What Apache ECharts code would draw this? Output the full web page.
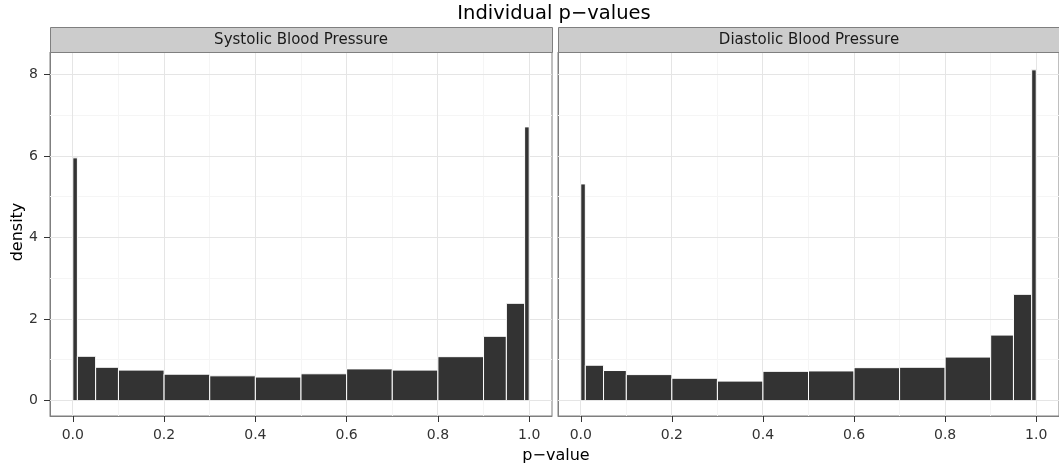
<!DOCTYPE html>
<html>
<head>
<meta charset="utf-8">
<script src="https://cdn.jsdelivr.net/npm/echarts@6/dist/echarts.min.js"></script>
<style>
html,body{margin:0;padding:0;background:#fff;}
#chart{width:1059px;height:469px;}
</style>
</head>
<body>
<div id="chart"></div>
<script>
// ---- data ----
const chartTitle = 'Individual p\u2212values';
const xTitle = 'p\u2212value';
const yTitle = 'density';
const panels = ['Systolic Blood Pressure', 'Diastolic Blood Pressure'];
const binEdges = [0, 0.01, 0.05, 0.1, 0.2, 0.3, 0.4, 0.5, 0.6, 0.7, 0.8, 0.9, 0.95, 0.99, 1.0];
const systolic = [5.96, 1.09, 0.82, 0.75, 0.65, 0.61, 0.58, 0.66, 0.78, 0.75, 1.08, 1.58, 2.39, 6.72];
const diastolic = [5.32, 0.87, 0.74, 0.64, 0.55, 0.48, 0.72, 0.73, 0.81, 0.82, 1.07, 1.61, 2.61, 8.12];
const xTicks = [0, 0.2, 0.4, 0.6, 0.8, 1.0];
const xMinor = [0.1, 0.3, 0.5, 0.7, 0.9];
const yTicks = [0, 2, 4, 6, 8];
const yMinor = [1, 3, 5, 7];
const xRange = [-0.05, 1.05];
const yRange = [-0.376, 8.558];

// ---- layout / style ----
const FONT = 'DejaVu Sans';
const grids = [
  {left: 50, top: 52, width: 502, height: 364},
  {left: 558, top: 52, width: 502, height: 364}
];
const seriesValues = [systolic, diastolic];

function binData(vals) {
  return vals.map((v, i) => [binEdges[i], binEdges[i + 1], v]);
}

function crisp(v) { return Math.round(v - 0.5) + 0.5; }

function vLineRender(color) {
  return function (params, api) {
    const cs = params.coordSys;
    const x = crisp(api.coord([api.value(0), 0])[0]);
    return {type: 'line', shape: {x1: x, y1: cs.y, x2: x, y2: cs.y + cs.height},
      style: {stroke: color, lineWidth: 1}};
  };
}
function hLineRender(color) {
  return function (params, api) {
    const cs = params.coordSys;
    const y = crisp(api.coord([0, api.value(1)])[1]);
    return {type: 'line', shape: {x1: cs.x, y1: y, x2: cs.x + cs.width, y2: y},
      style: {stroke: color, lineWidth: 1}};
  };
}
function barRender(params, api) {
  const p0 = api.coord([api.value(0), api.value(2)]);
  const p1 = api.coord([api.value(1), 0]);
  return {type: 'rect',
    shape: {x: p0[0], y: p0[1], width: p1[0] - p0[0], height: p1[1] - p0[1]},
    style: {fill: '#333333', stroke: '#ffffff', lineWidth: 1}};
}

const xAxes = [], yAxes = [], series = [], graphics = [];
grids.forEach((g, i) => {
  xAxes.push({
    type: 'value', gridIndex: i, min: xRange[0], max: xRange[1], position: 'bottom',
    axisLine: {show: true, onZero: false, lineStyle: {color: '#7f7f7f', width: 1}},
    axisTick: {show: true, length: 6, customValues: xTicks, lineStyle: {color: '#333333'}},
    axisLabel: {show: true, customValues: xTicks, margin: 12, color: '#333333',
      fontFamily: FONT, fontSize: 14, formatter: v => Number(v).toFixed(1)},
    splitLine: {show: false}, minorSplitLine: {show: false}
  });
  yAxes.push({
    type: 'value', gridIndex: i, min: yRange[0], max: yRange[1], position: 'left',
    axisLine: {show: true, onZero: false, lineStyle: {color: '#7f7f7f', width: 1}},
    axisTick: {show: i === 0, length: 6, customValues: yTicks, lineStyle: {color: '#333333'}},
    axisLabel: {show: i === 0, customValues: yTicks, margin: 12, color: '#333333',
      fontFamily: FONT, fontSize: 14, formatter: v => String(Math.round(v))},
    splitLine: {show: false}, minorSplitLine: {show: false}
  });
  series.push({type: 'custom', xAxisIndex: i, yAxisIndex: i, z: 1, silent: true,
    renderItem: vLineRender('#f5f5f5'), data: xMinor.map(v => [v, 0])});
  series.push({type: 'custom', xAxisIndex: i, yAxisIndex: i, z: 1, silent: true,
    renderItem: hLineRender('#f5f5f5'), data: yMinor.map(v => [0, v])});
  series.push({type: 'custom', xAxisIndex: i, yAxisIndex: i, z: 1, silent: true,
    renderItem: vLineRender('#e5e5e5'), data: xTicks.map(v => [v, 0])});
  series.push({type: 'custom', xAxisIndex: i, yAxisIndex: i, z: 1, silent: true,
    renderItem: hLineRender('#e5e5e5'), data: yTicks.map(v => [0, v])});
  series.push({type: 'custom', name: panels[i], xAxisIndex: i, yAxisIndex: i, z: 2,
    renderItem: barRender, encode: {x: [0, 1], y: 2}, data: binData(seriesValues[i])});

  graphics.push({type: 'rect', z: 10,
    shape: {x: g.left + 0.5, y: 27.5, width: g.width, height: 25},
    style: {fill: '#cccccc', stroke: '#7f7f7f', lineWidth: 1}});
  graphics.push({type: 'text', z: 11, x: g.left + g.width / 2, y: 40,
    style: {text: panels[i], fill: '#1a1a1a', font: '15px "' + FONT + '"',
      textAlign: 'center', textVerticalAlign: 'middle'}});
});

graphics.push({type: 'text', z: 11, x: 554, y: 14,
  style: {text: chartTitle, fill: '#000000', font: '19.5px "' + FONT + '"',
    textAlign: 'center', textVerticalAlign: 'middle'}});
graphics.push({type: 'text', z: 11, x: 556, y: 456,
  style: {text: xTitle, fill: '#000000', font: '16px "' + FONT + '"',
    textAlign: 'center', textVerticalAlign: 'middle'}});
graphics.push({type: 'text', z: 11, x: 18, y: 232, rotation: Math.PI / 2,
  style: {text: yTitle, fill: '#000000', font: '16px "' + FONT + '"',
    textAlign: 'center', textVerticalAlign: 'middle'}});

const chart = echarts.init(document.getElementById('chart'), null, {renderer: 'canvas'});
chart.setOption({
  animation: false,
  backgroundColor: '#ffffff',
  grid: grids.map(g => Object.assign({show: true, backgroundColor: '#ffffff',
    borderColor: '#7f7f7f', borderWidth: 1, containLabel: false}, g)),
  xAxis: xAxes,
  yAxis: yAxes,
  series: series,
  graphic: graphics
});
</script>
</body>
</html>
